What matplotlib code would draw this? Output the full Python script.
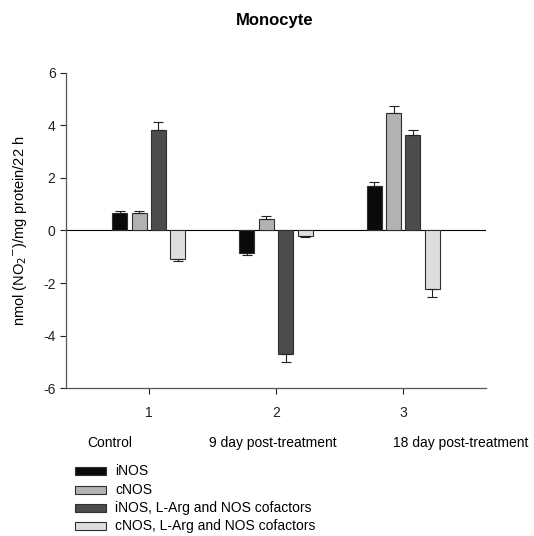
import matplotlib.pyplot as plt
from matplotlib.patches import Rectangle
import numpy as np

plt.rcParams['font.family'] = ['Liberation Sans', 'DejaVu Sans']
plt.rcParams['axes.unicode_minus'] = False

groups = [1, 2, 3]
group_labels = ["Control", "9 day post-treatment", "18 day post-treatment"]
series = ["iNOS", "cNOS", "iNOS, L-Arg and NOS cofactors",
          "cNOS, L-Arg and NOS cofactors"]
values = [
    [0.65, -0.87, 1.71],
    [0.65, 0.44, 4.48],
    [3.84, -4.69, 3.64],
    [-1.07, -0.21, -2.24],
]
errors = [
    [0.08, 0.08, 0.15],
    [0.08, 0.10, 0.25],
    [0.28, 0.32, 0.18],
    [0.09, 0.02, 0.28],
]
colors = ["#0a0a0a", "#b2b2b2", "#4c4c4c", "#dedede"]

fig = plt.figure(figsize=(5.34, 5.36), dpi=100)
ax = fig.add_axes([0.1236, 0.276, 0.7865, 0.588])

width = 0.118
step = 0.152
x = np.array(groups, dtype=float)
for i, (vals, errs, c) in enumerate(zip(values, errors, colors)):
    pos = x + (i - 1.5) * step
    vals = np.array(vals)
    errs = np.array(errs)
    lower = np.where(vals < 0, errs, 0)
    upper = np.where(vals >= 0, errs, 0)
    ax.bar(pos, vals, width=width, color=c, edgecolor="#303030",
           linewidth=0.8, zorder=2)
    ax.errorbar(pos, vals, yerr=[lower, upper], fmt="none", ecolor="#222222",
                elinewidth=0.8, capsize=3.5, capthick=0.8, zorder=3)

ax.axhline(0, color="black", linewidth=0.8, zorder=1)
ax.set_xlim(0.35, 3.65)
ax.set_ylim(-6, 6)
ax.set_yticks([-6, -4, -2, 0, 2, 4, 6])
ax.set_xticks(groups)
ax.tick_params(labelsize=10, length=4, width=0.8, colors="#222222")
ax.tick_params(axis="x", pad=9)
for s in ["top", "right"]:
    ax.spines[s].set_visible(False)
for s in ["left", "bottom"]:
    ax.spines[s].set_color("#555555")
    ax.spines[s].set_linewidth(0.9)

ax.set_ylabel("nmol (NO$_2$$^{-}$)/mg protein/22 h", fontsize=10.5, labelpad=10)
fig.text(0.514, 1 - 20 / 536, "Monocyte", ha="center", va="center",
         fontsize=12, fontweight="bold")

label_x = [87, 209, 393]
for lx, lab in zip(label_x, group_labels):
    fig.text(lx / 534, 1 - 443 / 536, lab, ha="left", va="center", fontsize=10)

row_y = [471, 490, 508, 526]
for ry, lab, c in zip(row_y, series, colors):
    fig.patches.append(Rectangle((75 / 534, 1 - (ry + 4) / 536), 31 / 534,
                                 8 / 536, transform=fig.transFigure,
                                 facecolor=c, edgecolor="#303030",
                                 linewidth=0.8, figure=fig))
    fig.text(115 / 534, 1 - ry / 536, lab, ha="left", va="center", fontsize=10)

fig.savefig("out.png", dpi=100)
